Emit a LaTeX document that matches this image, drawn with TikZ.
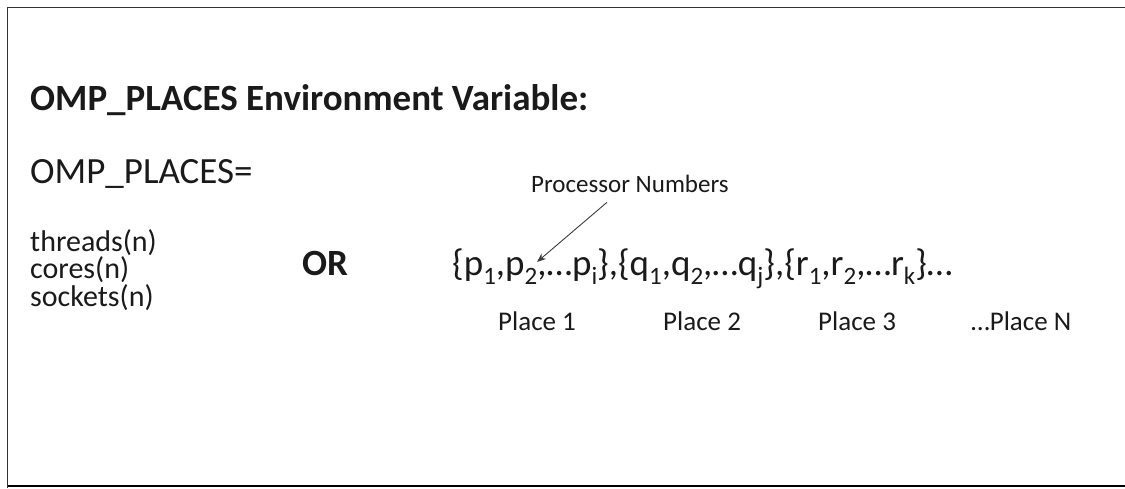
\documentclass[tikz,border=0pt]{standalone}
\usepackage{fontspec}
\setmainfont{Carlito}
\usetikzlibrary{arrows.meta}
\definecolor{ink}{HTML}{1A1A1A}
\definecolor{edge}{HTML}{333333}
\definecolor{shade}{HTML}{D4D4D4}
\newcommand{\psub}[1]{\raisebox{-9pt}{\fontsize{25}{25}\selectfont #1}}
\tikzset{
  txt/.style={anchor=base west, inner sep=0pt, text=ink},
  head/.style={txt, font=\fontsize{37}{40}\selectfont\bfseries},
  big/.style={txt, font=\fontsize{37}{40}\selectfont},
  kind/.style={txt, align=left, font=\fontsize{30}{26}\selectfont},
  plist/.style={txt, font=\fontsize{37}{40}\selectfont},
  note/.style={txt, font=\fontsize{25}{28}\selectfont},
  place/.style={txt, font=\fontsize{27}{30}\selectfont},
  arr/.style={-{Stealth[length=9pt,width=7pt]}, line width=0.9pt, draw=ink!85}
}

\begin{document}
\begin{tikzpicture}[x=1pt, y=-1pt]
\useasboundingbox (0,0) rectangle (1125,488);
% slide frame
\draw[edge, line width=1.5pt] (7.5,488) -- (7.5,7.5) -- (1125,7.5);
\draw[shade, line width=1.5pt] (7.5,486) -- (1125,486);

\node[head] (title) at (30,110) {OMP\_PLACES Environment Variable:};
\node[big] (var) at (30,183) {OMP\_PLACES=};

% base of a multi-line node is its last line
\node[kind] (kinds) at (30,306) {threads(n)\\cores(n)\\sockets(n)};

\node[head] (or) at (302,275) {OR};

\node[plist] (places) at (452,275) {\{p\psub{1},p\psub{2},…p\psub{i}\},\{q\psub{1},q\psub{2},…q\psub{j}\},\{r\psub{1},r\psub{2},…r\psub{k}\}…};

\node[note] (pn) at (531,192) {Processor Numbers};
\coordinate (p2) at (537,262);
\draw[arr] ([xshift=-23pt,yshift=-10pt]pn.south) -- (p2);

\node[place] (pl1) at (498,330) {Place 1};
\node[place] (pl2) at (663,330) {Place 2};
\node[place] (pl3) at (818,330) {Place 3};
\node[place] (pln) at (971,330) {…Place N};
\end{tikzpicture}
\end{document}
